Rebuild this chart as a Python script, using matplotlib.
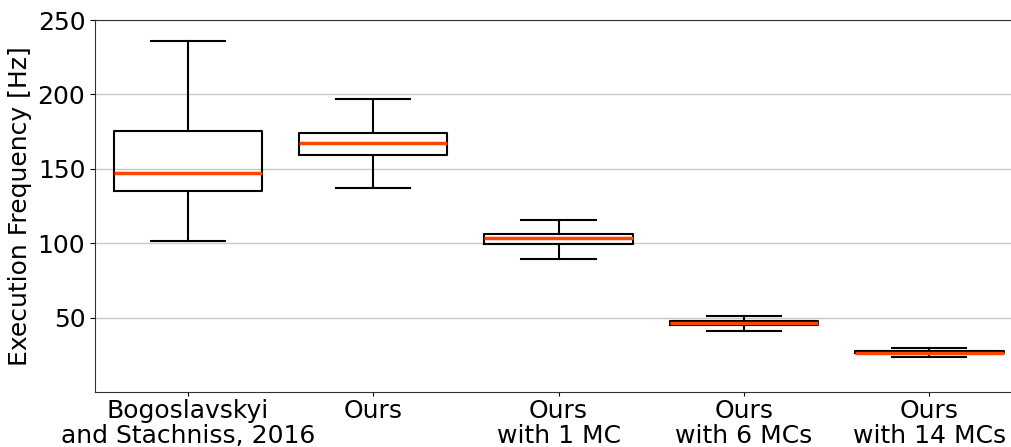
import matplotlib
matplotlib.use('Agg')
import matplotlib.pyplot as plt

etiquetas = ['Bogoslavskyi\nand Stachniss, 2016', 'Ours', 'Ours\nwith 1 MC',
             'Ours\nwith 6 MCs', 'Ours\nwith 14 MCs']
bigote_inf = [101.6, 137.0, 89.3, 41.3, 23.8]
q1 = [135.0, 159.2, 99.8, 45.3, 25.9]
mediana = [147.3, 167.3, 103.4, 46.5, 26.5]
q3 = [175.3, 174.4, 106.3, 47.8, 27.3]
bigote_sup = [236.0, 196.9, 115.7, 51.2, 29.6]

stats = []
for i in range(len(etiquetas)):
    stats.append({'whislo': bigote_inf[i], 'q1': q1[i], 'med': mediana[i],
                  'q3': q3[i], 'whishi': bigote_sup[i], 'label': etiquetas[i]})

fig = plt.figure(figsize=(10.11, 4.47), dpi=100)
ax = fig.add_axes([0.094, 0.123, 0.917, 0.832])

ax.bxp(stats, showfliers=False, widths=0.8,
       boxprops=dict(color='black', linewidth=1.5),
       whiskerprops=dict(color='black', linewidth=1.5),
       capprops=dict(color='black', linewidth=1.5),
       medianprops=dict(color='#ff4500', linewidth=2.5))

ax.set_ylim(0, 250)
ax.set_xlim(0.5, 5.5)
ax.set_yticks([50, 100, 150, 200, 250])
ax.yaxis.grid(True, color='#c8c8c8', linewidth=1)
ax.set_axisbelow(True)
ax.tick_params(labelsize=18)
ax.tick_params(axis='x', length=3, pad=2)
for t in ax.get_xticklabels():
    t.set_linespacing(1.05)
ax.set_ylabel('Execution Frequency [Hz]', fontsize=18)
for s in ax.spines.values():
    s.set_color('#333333')

fig.savefig('out.png', dpi=100)
